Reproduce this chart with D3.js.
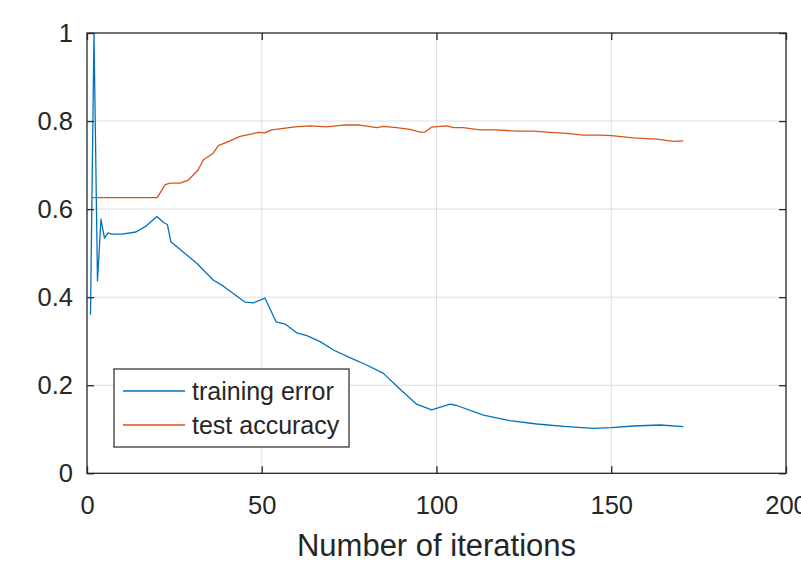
<!DOCTYPE html>
<html>
<head>
<meta charset="utf-8">
<script src="https://cdn.jsdelivr.net/npm/d3@7"></script>
<style>
  html, body { margin: 0; padding: 0; background: #fff; }
  svg { display: block; }
  text { font-family: "Liberation Sans", Arial, Helvetica, sans-serif; fill: #262626; }
</style>
</head>
<body>
<svg id="chart" width="801" height="561"></svg>
<script>
// ---- data ----
const trainIter = [1, 2, 3, 4, 5, 6, 7, 10, 14, 17, 20, 22, 23, 24, 31.4, 36.1, 39, 45.2, 47.6, 50.9,
  54.1, 56.7, 60, 62.9, 66.7, 70.5, 75.2, 80, 84.8, 89.6, 94.3, 98.6, 103.9, 105.8, 113.4, 121,
  128.7, 137.3, 144.9, 150.1, 156.3, 164, 170.6];
const trainError = [0.36, 1.0, 0.437, 0.577, 0.534, 0.546, 0.543, 0.543, 0.548, 0.562, 0.583, 0.569, 0.565, 0.526, 0.477, 0.439, 0.425, 0.389, 0.387, 0.398,
  0.344, 0.339, 0.319, 0.3125, 0.299, 0.28, 0.2626, 0.246, 0.227, 0.191, 0.157, 0.144, 0.157, 0.154, 0.132, 0.1195,
  0.112, 0.106, 0.102, 0.1036, 0.1074, 0.1097, 0.106];

const testIter = [1.3, 20.1, 22.3, 23.7, 26.6, 29, 31.8, 33.3, 36.1, 37.6, 40.9, 43.8, 46.6, 49, 50.9, 52.8,
  56.2, 59.5, 63.8, 68.6, 73.4, 78.1, 82.9, 84.8, 88.6, 92.4, 95.3, 96.7, 98.6, 102.9, 104.8, 107.7,
  112.4, 117.2, 122.9, 127.7, 132.5, 137.3, 142, 146.8, 150.1, 156.3, 163, 167.8, 170.6];
const testAccuracy = [0.626, 0.626, 0.655, 0.659, 0.659, 0.666, 0.689, 0.712, 0.727, 0.744, 0.755, 0.765, 0.770, 0.7745, 0.773, 0.78,
  0.7835, 0.787, 0.789, 0.787, 0.791, 0.791, 0.785, 0.788, 0.785, 0.781, 0.775, 0.775, 0.786, 0.789, 0.785, 0.785,
  0.780, 0.78, 0.777, 0.777, 0.7745, 0.772, 0.768, 0.768, 0.767, 0.762, 0.759, 0.754, 0.755];

const xTicks = [0, 50, 100, 150, 200];
const yTicks = [0, 0.2, 0.4, 0.6, 0.8, 1];
const seriesNames = ["training error", "test accuracy"];
const xLabel = "Number of iterations";

// ---- layout ----
const L = 87, R = 786, T = 33, B = 473.3;
const svg = d3.select("#chart");
const x = d3.scaleLinear().domain([0, 200]).range([L, R]);
const y = d3.scaleLinear().domain([0, 1]).range([B, T]);
const axisColor = "#262626";
const colors = ["#0072BD", "#D95319"];

// grid
const grid = svg.append("g");
grid.selectAll("line.gx").data(xTicks.slice(1, -1)).enter().append("line")
  .attr("x1", d => x(d)).attr("x2", d => x(d)).attr("y1", T).attr("y2", B)
  .attr("stroke", "#dedede").attr("stroke-width", 1);
grid.selectAll("line.gy").data(yTicks.slice(1, -1)).enter().append("line")
  .attr("x1", L).attr("x2", R).attr("y1", d => y(d)).attr("y2", d => y(d))
  .attr("stroke", "#dedede").attr("stroke-width", 1);

// clip
svg.append("clipPath").attr("id", "clip").append("rect")
  .attr("x", L).attr("y", T).attr("width", R - L).attr("height", B - T);

const line = d3.line().x(d => x(d[0])).y(d => y(d[1]));
const series = [
  d3.zip(trainIter, trainError),
  d3.zip(testIter, testAccuracy)
];
svg.append("g").attr("clip-path", "url(#clip)")
  .selectAll("path").data(series).enter().append("path")
  .attr("d", line)
  .attr("fill", "none")
  .attr("stroke", (d, i) => colors[i])
  .attr("stroke-width", 1.3)
  .attr("stroke-linejoin", "round");

// box
svg.append("rect").attr("x", L).attr("y", T).attr("width", R - L).attr("height", B - T)
  .attr("fill", "none").attr("stroke", axisColor).attr("stroke-width", 1.3);

// axes with inward ticks
const tickLen = 7;
const axX = d3.axisBottom(x).tickValues(xTicks).tickSize(-tickLen).tickPadding(23).tickFormat(d3.format("d"));
const axXTop = d3.axisTop(x).tickValues(xTicks).tickSize(-tickLen).tickFormat("");
const axY = d3.axisLeft(y).tickValues(yTicks).tickSize(-tickLen).tickPadding(14).tickFormat(d => d === 0 || d === 1 ? d3.format("d")(d) : d3.format(".1f")(d));
const axYR = d3.axisRight(y).tickValues(yTicks).tickSize(-tickLen).tickFormat("");

function styleAxis(g) {
  g.select(".domain").remove();
  g.selectAll(".tick line").attr("stroke", axisColor).attr("stroke-width", 1.3);
  g.selectAll(".tick text").attr("fill", axisColor).style("font-size", "25.5px")
    .style("font-family", '"Liberation Sans", Arial, sans-serif');
}
svg.append("g").attr("transform", `translate(0,${B})`).call(axX).call(styleAxis);
svg.append("g").attr("transform", `translate(0,${T})`).call(axXTop).call(styleAxis);
svg.append("g").attr("transform", `translate(${L},0)`).call(axY).call(styleAxis);
svg.append("g").attr("transform", `translate(${R},0)`).call(axYR).call(styleAxis);

// x label
svg.append("text").attr("x", (L + R) / 2).attr("y", 556)
  .attr("text-anchor", "middle").style("font-size", "31px").text(xLabel);

// legend
const lg = svg.append("g");
lg.append("rect").attr("x", 114).attr("y", 369).attr("width", 235).attr("height", 78)
  .attr("fill", "#fff").attr("stroke", axisColor).attr("stroke-width", 1.2);
const rowsY = [391, 425];
seriesNames.forEach((name, i) => {
  lg.append("line").attr("x1", 123).attr("x2", 185).attr("y1", rowsY[i]).attr("y2", rowsY[i])
    .attr("stroke", colors[i]).attr("stroke-width", 1.3);
  lg.append("text").attr("x", 192).attr("y", rowsY[i] + 9)
    .style("font-size", "25px").text(name);
});
</script>
</body>
</html>
